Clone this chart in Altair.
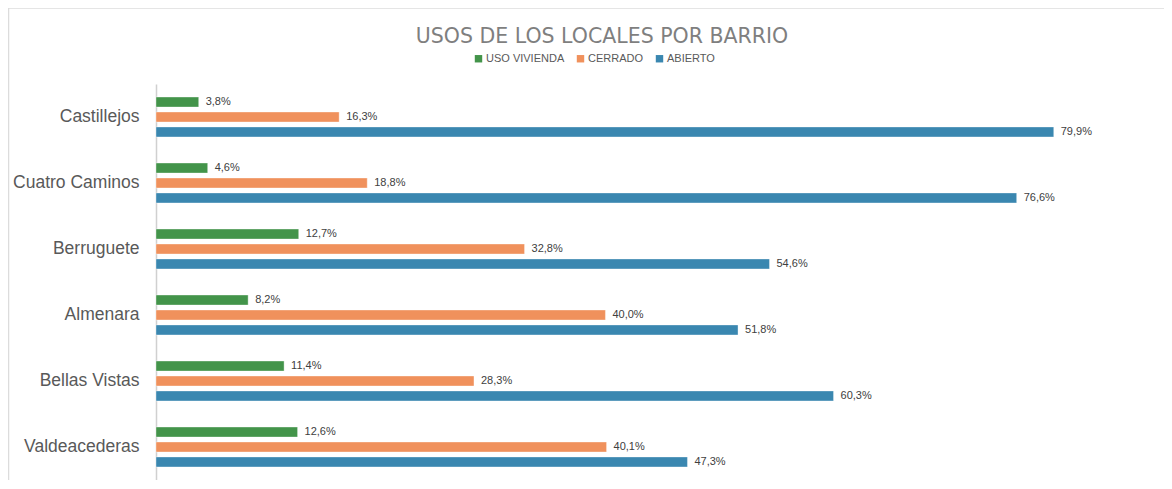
import altair as alt
import pandas as pd

barrios = ["Castillejos", "Cuatro Caminos", "Berruguete", "Almenara", "Bellas Vistas", "Valdeacederas"]
series = ["USO VIVIENDA", "CERRADO", "ABIERTO"]
uso_vivienda = [3.8, 4.6, 12.7, 8.2, 11.4, 12.6]
cerrado = [16.3, 18.8, 32.8, 40.0, 28.3, 40.1]
abierto = [79.9, 76.6, 54.6, 51.8, 60.3, 47.3]
colors = ["#43944a", "#f0915c", "#3a87b0"]

rows = []
for i, b in enumerate(barrios):
    for s, vals in zip(series, [uso_vivienda, cerrado, abierto]):
        v = vals[i]
        rows.append({"barrio": b, "serie": s, "valor": v,
                     "etiqueta": f"{v:.1f}".replace(".", ",") + "%"})
df = pd.DataFrame(rows)

y = alt.Y("barrio:N", sort=barrios, title=None,
          scale=alt.Scale(paddingInner=0.32, paddingOuter=0.16),
          axis=alt.Axis(labelFontSize=17.5, labelColor="#595959", labelFont="Liberation Sans",
                        labelPadding=17, ticks=False, domainColor="#d0d0d0", domainWidth=1.5))
yoff = alt.YOffset("serie:N", sort=series,
                   scale=alt.Scale(paddingInner=0.33, paddingOuter=0.165))
x = alt.X("valor:Q", scale=alt.Scale(domain=[0, 89], nice=False), axis=None)

bars = alt.Chart(df).mark_bar(stroke="white", strokeWidth=0.6, strokeOpacity=0.6).encode(
    y=y, yOffset=yoff, x=x,
    color=alt.Color("serie:N", sort=series,
                    scale=alt.Scale(domain=series, range=colors),
                    legend=alt.Legend(title=None, orient="none", direction="horizontal",
                                      legendX=317, legendY=-31, symbolType="square",
                                      symbolSize=55, symbolStrokeWidth=0,
                                      labelFontSize=11, labelColor="#595959",
                                      labelFont="Liberation Sans", columnPadding=10,
                                      symbolOffset=0, labelOffset=2)),
)

labels = alt.Chart(df).mark_text(align="left", baseline="middle", dx=7, fontSize=11,
                                 color="#404040", font="Liberation Sans").encode(
    y=alt.Y("barrio:N", sort=barrios), yOffset=alt.YOffset("serie:N", sort=series), x="valor:Q",
    text="etiqueta:N",
)

# card border (top and left edges)
border_top = alt.Chart(pd.DataFrame({"k": [0]})).mark_rule(color="#dcdcdc", strokeWidth=1.5).encode(
    x=alt.value(-148), x2=alt.value(1010), y=alt.value(-76))
border_left = alt.Chart(pd.DataFrame({"k": [0]})).mark_rule(color="#dcdcdc", strokeWidth=1.5).encode(
    x=alt.value(-147.5), y=alt.value(-76), y2=alt.value(400))

chart = (border_top + border_left + bars + labels).properties(
    width=1000, height=396,
    title=alt.TitleParams("USOS DE LOS LOCALES POR BARRIO", fontSize=20.5, fontWeight="normal",
                          color="#7f7f7f", font="DejaVu Sans", dx=-54, offset=-40,
                          anchor="middle", limit=0),
    padding={"left": 148, "top": 76, "right": 8, "bottom": 0},
    autosize=alt.AutoSizeParams(type="none"),
    background="white",
).configure_view(stroke=None)

chart.save("out.html", embed_options={"renderer": "svg", "actions": False})
